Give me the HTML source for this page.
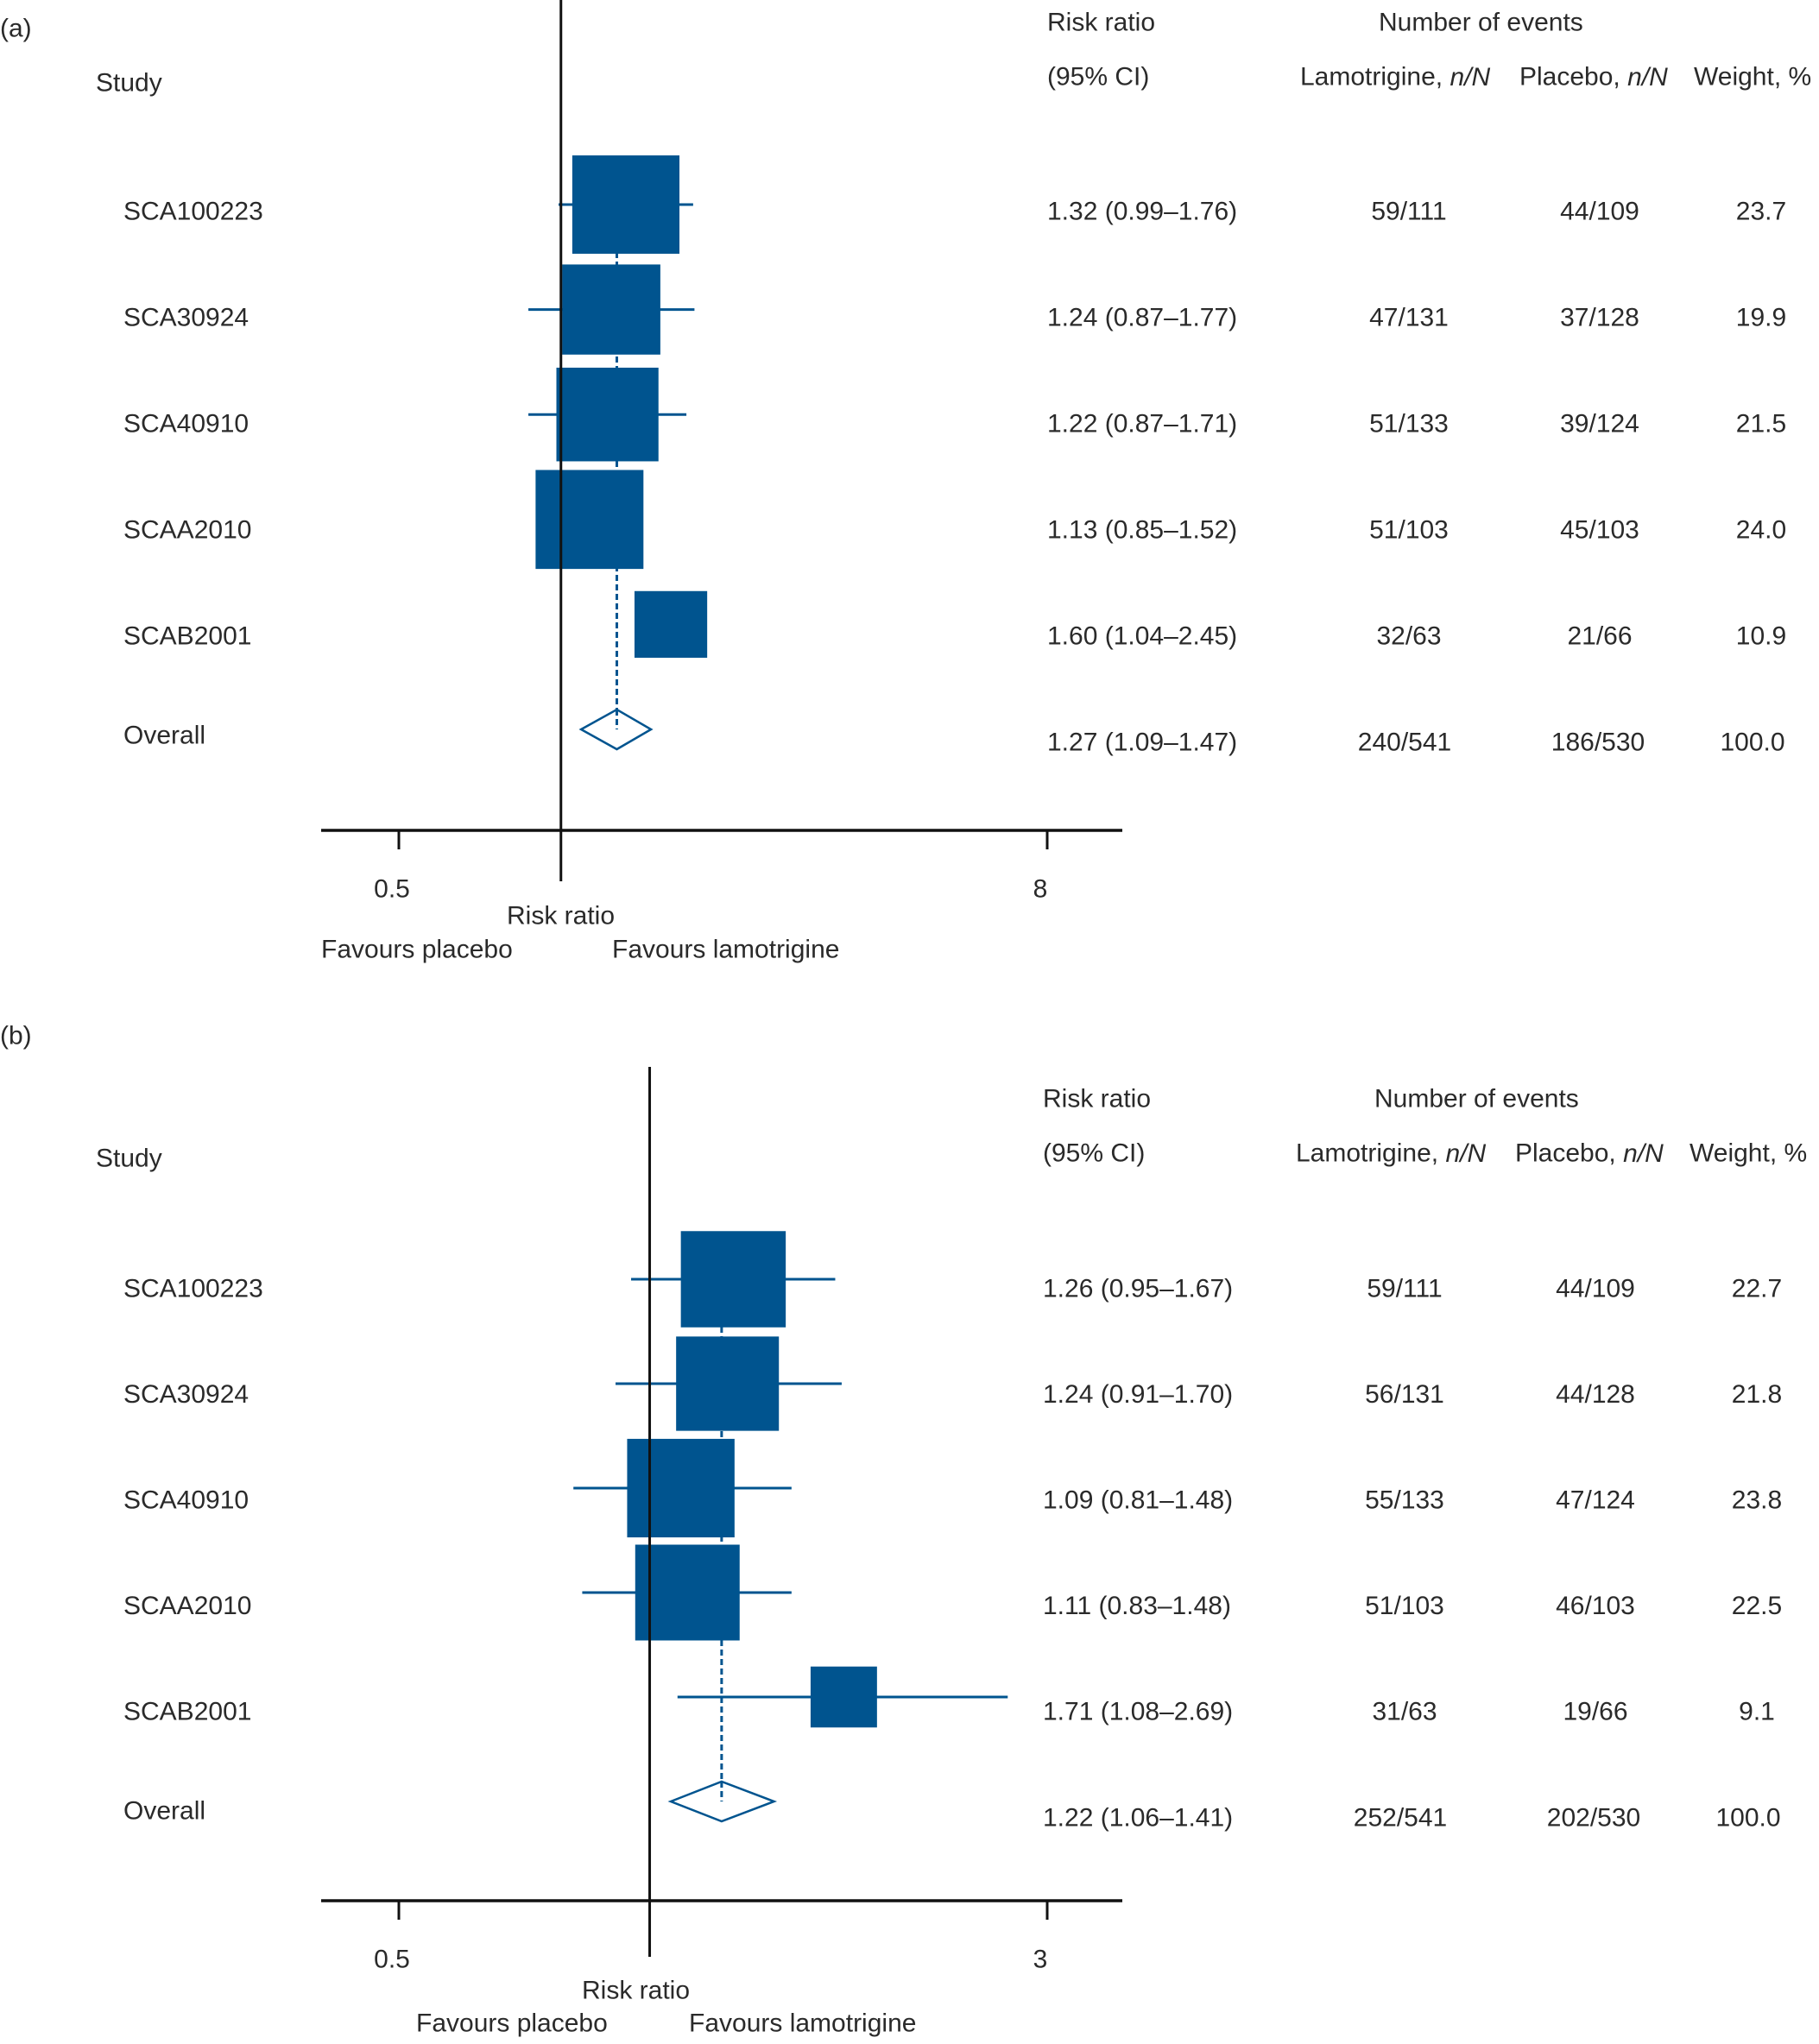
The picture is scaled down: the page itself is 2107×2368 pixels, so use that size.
<!DOCTYPE html>
<html><head><meta charset="utf-8">
<style>
html,body{margin:0;padding:0;background:#fff;}
svg{display:block;}
text{font-family:"Liberation Sans",sans-serif;font-size:30px;fill:#2a2a2a;}
</style></head>
<body>
<svg id="chart" width="2107" height="2368" viewBox="0 0 2107 2368" xmlns="http://www.w3.org/2000/svg"></svg>
<script>
const studies = ["SCA100223","SCA30924","SCA40910","SCAA2010","SCAB2001"];
const rrA = [1.32,1.24,1.22,1.13,1.60];
const loA = [0.99,0.87,0.87,0.85,1.04];
const hiA = [1.76,1.77,1.71,1.52,2.45];
const wA = [23.7,19.9,21.5,24.0,10.9];
const ciShownA = [true,true,true,false,false];
const lamA = ["59/111","47/131","51/133","51/103","32/63"];
const plaA = ["44/109","37/128","39/124","45/103","21/66"];
const overallA = [1.27,1.09,1.47];
const totA = ["240/541","186/530","100.0"];
const rrB = [1.26,1.24,1.09,1.11,1.71];
const loB = [0.95,0.91,0.81,0.83,1.08];
const hiB = [1.67,1.70,1.48,1.48,2.69];
const wB = [22.7,21.8,23.8,22.5,9.1];
const ciShownB = [true,true,true,true,true];
const lamB = ["59/111","56/131","55/133","51/103","31/63"];
const plaB = ["44/109","44/128","47/124","46/103","19/66"];
const overallB = [1.22,1.06,1.41];
const totB = ["252/541","202/530","100.0"];
const ticksA = [0.5,8];
const ticksB = [0.5,3];

const svg = document.getElementById('chart');
const NS = "http://www.w3.org/2000/svg";
const BLUE = "#00548f";
function mk(tag, attrs, parent){
  const e = document.createElementNS(NS, tag);
  for (const k in attrs) e.setAttribute(k, attrs[k]);
  (parent||svg).appendChild(e);
  return e;
}
function txt(s, x, y, anchor, parent){
  const t = mk('text', {x:x, y:y, 'text-anchor':anchor||'start', 'dominant-baseline':'central'}, parent);
  t.textContent = s;
  return t;
}
function fmt(v){return v.toFixed(2);}

function panel(cfg){
  const g = mk('g', {});
  
  
  const x0 = 462, x1 = 1213;
  const lmin = Math.log(cfg.ticks[0]), lmax = Math.log(cfg.ticks[1]);
  const X = v => x0 + (Math.log(v) - lmin) / (lmax - lmin) * (x1 - x0);
  const rowY = i => cfg.rowTop + i * cfg.rowStep;
  const yOv = cfg.rowTop + 5 * cfg.rowStep;

  const dl = mk('line', {x1:X(cfg.ov[0]), x2:X(cfg.ov[0]), y1:rowY(0), y2:yOv, stroke:BLUE, 'stroke-width':3, 'stroke-dasharray':'7,4'}, g);
  
  

  for (let i = 0; i < cfg.rr.length; i++){
    const y = rowY(i);
    if (cfg.ci[i]) {
      const ci = mk('line', {x1:X(cfg.lo[i]), x2:X(cfg.hi[i]), y1:y, y2:y, stroke:BLUE, 'stroke-width':3}, g);
      
      
    }
    const bw = 25.5 * Math.sqrt(cfg.w[i]), bh = 23.4 * Math.sqrt(cfg.w[i]);
    const b = mk('rect', {x:X(cfg.rr[i]) - bw/2, y:y - bh/2, width:bw, height:bh, fill:BLUE}, g);
    
    
  }
  const cx = X(cfg.ov[0]), lx = X(cfg.ov[1]), rx = X(cfg.ov[2]);
  const dm = mk('polygon', {points:`${lx},${yOv} ${cx},${yOv-23} ${rx},${yOv} ${cx},${yOv+23}`, fill:'#fff', stroke:BLUE, 'stroke-width':2.5}, g);
  
  
  mk('line', {x1:cx, x2:cx, y1:yOv-23, y2:yOv, stroke:BLUE, 'stroke-width':3, 'stroke-dasharray':'7,4'}, g);

  const nl = mk('line', {x1:X(1), x2:X(1), y1:cfg.vTop, y2:cfg.vBot, stroke:'#111', 'stroke-width':3}, g);
  
  
  const ax = mk('line', {x1:372, x2:1300, y1:cfg.axisY, y2:cfg.axisY, stroke:'#111', 'stroke-width':3.5}, g);
  
  
  for (const t of cfg.ticks){
    const tk = mk('line', {x1:X(t), x2:X(t), y1:cfg.axisY, y2:cfg.axisY+22, stroke:'#111', 'stroke-width':3}, g);
    
    
    const tl = txt(String(t), X(t) - 8, cfg.axisY + 68, 'middle', g);
    
    
  }
  const at = txt('Risk ratio', cfg.rrLabel[0], cfg.rrLabel[1], 'start', g);
  
  
  const fp = txt('Favours placebo', cfg.favP[0], cfg.favY, 'start', g);
  
  
  const fl = txt('Favours lamotrigine', cfg.favL[0], cfg.favY, 'start', g);
  
  

  const pl = txt(cfg.label, 0, cfg.labelY, 'start', g);
  pl.setAttribute('font-size', '36');
  
  
  const sh = txt('Study', 111, cfg.studyY, 'start', g);
  
  
  const dx = cfg.dx;
  const h1 = txt('Risk ratio', 1213 + dx, cfg.h1Y, 'start', g);
  
  
  const h2 = txt('(95% CI)', 1213 + dx, cfg.h2Y, 'start', g);
  
  
  const h3 = txt('Number of events', 1597 + dx, cfg.h1Y, 'start', g);
  
  
  const h4 = mk('text', {x:1506 + dx, y:cfg.h2Y, 'dominant-baseline':'central'}, g);
  h4.innerHTML = 'Lamotrigine, <tspan font-style="italic">n/N</tspan>';
  
  
  const h5 = mk('text', {x:1760 + dx, y:cfg.h2Y, 'dominant-baseline':'central'}, g);
  h5.innerHTML = 'Placebo, <tspan font-style="italic">n/N</tspan>';
  
  
  const h6 = txt('Weight, %', 1962 + dx, cfg.h2Y, 'start', g);
  
  

  for (let i = 0; i < cfg.rr.length; i++){
    const y = cfg.textTop + i * cfg.textStep;
    const s = txt(cfg.studies[i], 143, y, 'start', g);
    
    
    const r = txt(`${fmt(cfg.rr[i])} (${fmt(cfg.lo[i])}–${fmt(cfg.hi[i])})`, 1213 + dx, y, 'start', g);
    
    
    const l = txt(cfg.lam[i], 1632 + dx, y, 'middle', g);
    
    
    const p = txt(cfg.pla[i], 1853 + dx, y, 'middle', g);
    
    
    const w = txt(cfg.w[i].toFixed(1), 2040 + dx, y, 'middle', g);
    
    
  }
  const ov = txt('Overall', 143, cfg.overallY, 'start', g);
  
  
  const oy = cfg.overallY + 8;
  const orr = txt(`${fmt(cfg.ov[0])} (${fmt(cfg.ov[1])}–${fmt(cfg.ov[2])})`, 1213 + dx, oy, 'start', g);
  
  
  const ol = txt(cfg.tot[0], 1627 + dx, oy, 'middle', g);
  
  
  const op = txt(cfg.tot[1], 1851 + dx, oy, 'middle', g);
  
  
  const ow = txt(cfg.tot[2], 2030 + dx, oy, 'middle', g);
  
  
}

panel({name:'panel-a', label:'(a)', labelY:33, studyY:96, h1Y:26, h2Y:89, dx:0,
  studies:studies, rr:rrA, lo:loA, hi:hiA, w:wA, ci:ciShownA, lam:lamA, pla:plaA, ov:overallA, tot:totA, ticks:ticksA,
  rowTop:237, rowStep:121.6, vTop:0, vBot:1021, axisY:962,
  textTop:245, textStep:123, overallY:852,
  rrLabel:[587,1061], favP:[372], favL:[709], favY:1100});
panel({name:'panel-b', label:'(b)', labelY:1200, studyY:1342, h1Y:1273, h2Y:1336, dx:-5,
  studies:studies, rr:rrB, lo:loB, hi:hiB, w:wB, ci:ciShownB, lam:lamB, pla:plaB, ov:overallB, tot:totB, ticks:ticksB,
  rowTop:1482, rowStep:121, vTop:1236, vBot:2267, axisY:2202,
  textTop:1493, textStep:122.5, overallY:2098,
  rrLabel:[674,2306], favP:[482], favL:[798], favY:2344});
</script>
</body></html>
